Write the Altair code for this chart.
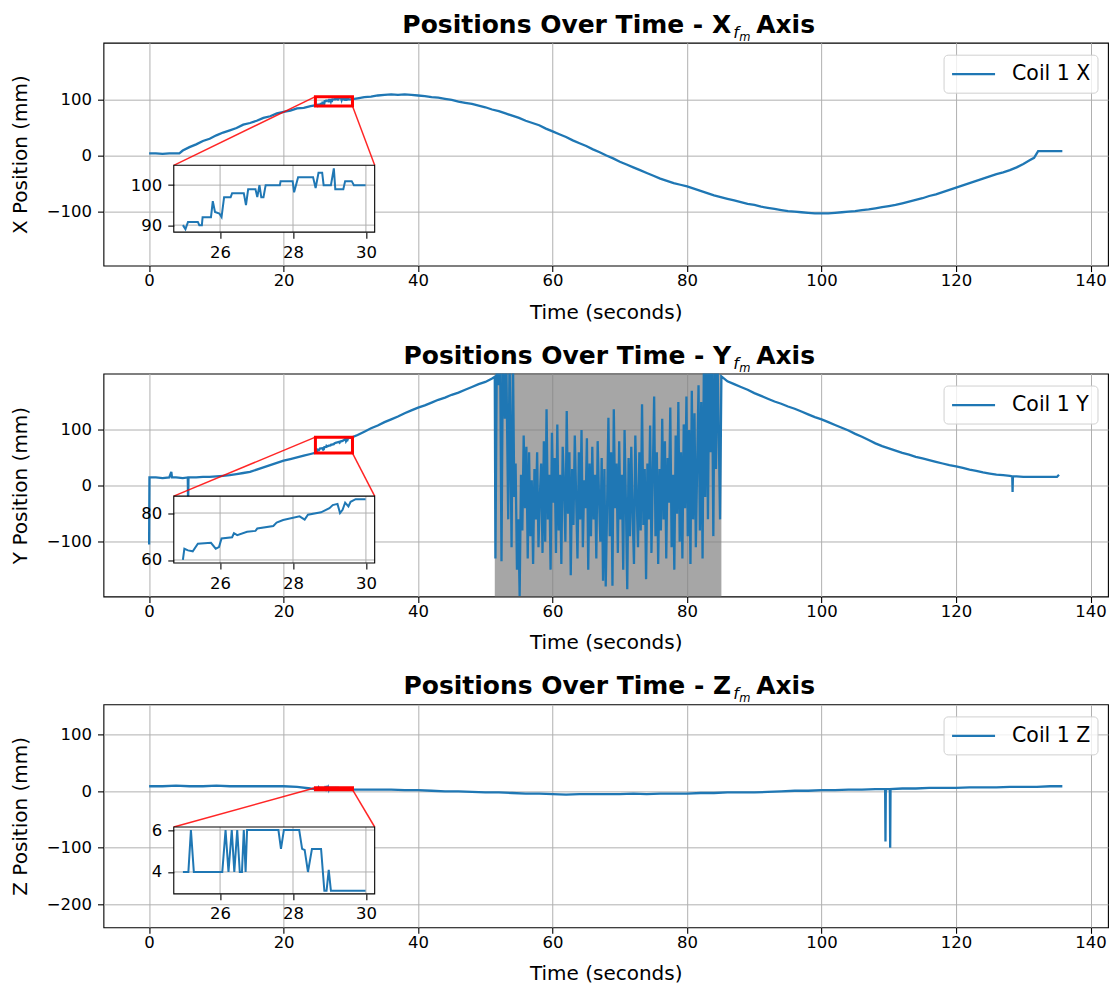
import altair as alt
import pandas as pd

FONT = "DejaVu Sans"
BLUE = "#1f77b4"
W, H = 1005, 223
INSET_BOUNDS = [0.07, 0.15, 0.2, 0.3]  # left, bottom, width, height (fraction of axes)

time_ticks = [0, 20, 40, 60, 80, 100, 120, 140]
inset_time_ticks = [26, 28, 30]

# ---------------- X panel ----------------
x_t = [0, 1, 2, 3, 4, 4.5, 5, 6, 7, 8, 9, 10, 11, 12, 13, 14, 15, 16, 17, 18, 19, 20, 21, 22, 23, 24,
       31, 32, 33, 34, 35, 36, 37, 38, 39, 40,
       41, 42, 43, 44, 45, 46, 47, 48, 49, 50,
       51, 52, 53, 54, 55, 56, 57, 58, 59, 60,
       61, 62, 63, 64, 65, 66, 67, 68, 69, 70,
       71, 72, 73, 74, 75, 76, 77, 78, 79, 80,
       81, 82, 83, 84, 85, 86, 87, 88, 89, 90,
       91, 92, 93, 94, 95, 96, 97, 98, 99, 100,
       101, 102, 103, 104, 105, 106, 107, 108, 109, 110,
       111, 112, 113, 114, 115, 116, 117, 118, 119, 120,
       121, 122, 123, 124, 125, 126, 127, 128, 129, 130,
       131, 131.6, 132.2, 133, 134, 135, 135.8]
x_v = [4, 4, 3, 4, 4, 4, 9, 15, 20, 26, 30, 36, 41, 45, 49, 55, 58, 62, 67, 70, 75, 78, 80, 84, 85, 88,
       102, 104, 105, 107, 108, 109, 108, 109, 108, 107,
       106, 104, 103, 101, 99, 96, 94, 92, 89, 86,
       82, 79, 75, 71, 67, 62, 58, 54, 48, 43,
       38, 33, 27, 22, 17, 11, 6, 0, -5, -11,
       -16, -21, -26, -31, -36, -41, -45, -49, -52, -55,
       -59, -63, -67, -71, -74, -77, -80, -83, -86, -88,
       -91, -93, -95, -97, -99, -100, -101, -102, -103, -103,
       -103, -102, -101, -100, -99, -97, -96, -94, -92, -90,
       -88, -85, -82, -79, -76, -72, -69, -65, -61, -57,
       -53, -49, -45, -41, -37, -33, -30, -26, -21, -15,
       -8, -4, 8, 8, 8, 8, 8]
x_inset_t = [24.98, 25.05, 25.12, 25.39, 25.43, 25.5, 25.52, 25.75, 25.8, 25.86,
             25.98, 26.04, 26.11, 26.29, 26.33, 26.65, 26.71, 26.77, 26.97, 27.02,
             27.08, 27.13, 27.19, 27.25, 27.64, 27.66, 27.99, 28.03, 28.14, 28.55,
             28.62, 28.7, 28.8, 28.84, 29.04, 29.12, 29.16, 29.38, 29.43, 29.61,
             29.67, 29.99]
x_inset_v = [90, 89, 90.8, 90.8, 90, 90, 92, 92, 96, 93.3,
             92.9, 92, 97, 97, 98, 98, 95, 99, 99, 97,
             100, 97, 97, 100, 100, 101, 101, 98.2, 102, 102,
             99.3, 103.1, 103.1, 100, 100, 104.2, 99, 99, 101, 101,
             100, 100]
x_ylim = [-196, 201]
x_yticks = [-100, 0, 100]
x_inset_yticks = [90, 100]

# ---------------- Y panel ----------------
y_t = [0, 0.05, 1, 2, 3, 3.3, 3.4, 4, 5, 5.75, 5.8, 5.85, 6, 7, 8, 9, 10, 11, 12, 13,
       14, 15, 16, 17, 18, 19, 20, 21, 22, 23, 24,
       31, 32, 33, 34, 35, 36, 37, 38, 39, 40, 41, 42, 43, 44, 45, 46, 47, 48, 49, 50, 51,
       86, 87, 88, 89, 90, 91, 92, 93, 94, 95, 96, 97, 98, 99, 100, 101, 102, 103, 104, 105,
       106, 107, 108, 109, 110, 111, 112, 113, 114, 115, 116, 117, 118, 119, 120, 121, 122,
       123, 124, 125, 126, 127, 128,
       128.35, 128.4, 128.45, 129, 130, 131, 132, 133, 134, 135, 135.3]
y_v = [-105, 15, 15, 14, 15, 25, 15, 15, 14, 15, -30, 15, 15, 15, 16, 16, 17, 18, 19, 21,
       23, 25, 29, 33, 37, 41, 45, 48, 51, 54, 57,
       91, 97, 103, 108, 114, 119, 124, 130, 135, 140, 144, 149, 154, 158, 163, 167, 172, 177, 182, 186, 192,
       187, 182, 177, 172, 166, 161, 156, 151, 147, 142, 138, 133, 128, 123, 119, 114, 109, 104, 99, 93,
       88, 82, 76, 71, 67, 63, 59, 56, 52, 49, 46, 43, 40, 37, 35, 32, 29,
       27, 24, 22, 20, 19, 18,
       17, -11, 17, 17, 16, 16, 16, 16, 16, 16, 20]
# noisy segment (shaded region)
y_noise_t = [51.4, 51.5, 51.7, 52.0, 52.2, 52.4, 52.6, 52.9, 53.1, 53.4, 53.6, 53.9, 54.1,
             54.3, 54.5, 54.7, 54.9, 55.1, 55.3, 55.5, 55.7, 55.9, 56.1,
             56.3, 56.5, 56.7, 56.9, 57.1, 57.3, 57.5, 57.7, 57.9, 58.1,
             58.3, 58.5, 58.7, 58.9, 59.1, 59.3, 59.5, 59.7, 59.9, 60.1,
             60.3, 60.5, 60.7, 60.9, 61.1, 61.3, 61.5, 61.7, 61.9, 62.1,
             62.3, 62.5, 62.7, 62.9, 63.1, 63.3, 63.5, 63.7, 63.9, 64.1,
             64.3, 64.5, 64.7, 64.9, 65.1, 65.3, 65.5, 65.7, 65.9, 66.1,
             66.3, 66.5, 66.7, 66.9, 67.1, 67.3, 67.5, 67.7, 67.9, 68.1,
             68.3, 68.5, 68.7, 68.9, 69.1, 69.3, 69.5, 69.7, 69.9, 70.1,
             70.3, 70.5, 70.7, 70.9, 71.1, 71.3, 71.5, 71.7, 71.9, 72.1,
             72.3, 72.5, 72.7, 72.9, 73.1, 73.3, 73.5, 73.7, 73.9, 74.1,
             74.3, 74.5, 74.7, 74.9, 75.1, 75.3, 75.5, 75.7, 75.9, 76.1,
             76.3, 76.5, 76.7, 76.9, 77.1, 77.3, 77.5, 77.7, 77.9, 78.1,
             78.3, 78.5, 78.7, 78.9, 79.1, 79.3, 79.5, 79.7, 79.9, 80.1,
             80.3, 80.5, 80.7, 80.9, 81.1, 81.3, 81.5, 81.7, 81.9, 82.1,
             82.3, 82.5, 82.7, 82.9, 83.1, 83.3, 83.5, 83.7, 83.9, 84.1,
             84.3, 84.5, 84.7, 84.9, 85.1]
y_noise_v = [195, -130, 230, 180, 240, -135, 230, 120, 240, -60, 230, -110, 235,
             -20, 40, -150, -60, -197, 20, -80, 90, -40, 70,
             -130, 60, -90, 10, -140, 30, -60, 60, -110, -20,
             40, -120, 80, -100, 137, -60, 20, -150, 95, -30,
             50, -120, 110, -80, 20, -140, 70, 0, -100, 134,
             -50, 60, -160, 30, -70, 90, -20, -130, 60, -60,
             100, -110, 10, -40, 85, -150, 40, -90, 70, -60,
             20, -130, 80, -20, -100, 50, -170, 30, -180, -40,
             122, -90, 60, -179, 137, -40, 40, -120, 80, -60,
             20, -150, 100, -30, -185, 50, -90, 70, -50, -140,
             90, -20, -110, 60, -80, 146, -70, 30, -167, 40,
             -60, 108, -120, 20, 160, -90, 60, -140, 30, -80,
             120, -60, 80, -130, 50, -30, 140, -110, 20, -150,
             90, -50, 150, -100, 60, -130, 110, -40, 160, -90,
             100, -140, 170, -60, 130, -110, 40, 180, -80, 150,
             -130, 230, -20, 240, -60, 240, 60, 230, -90, 240,
             30, 240, 100, -60, 196]
y_span = [51.4, 85.1]
y_inset_t = [24.98, 25.02, 25.12, 25.25, 25.39, 25.75, 25.88, 25.97, 26.04, 26.33,
             26.38, 26.47, 26.74, 26.97, 27.02, 27.46, 27.55, 27.73, 28.18, 28.32,
             28.41, 28.77, 29.0, 29.09, 29.22, 29.29, 29.36, 29.43, 29.52, 29.58,
             29.72, 29.99]
y_inset_v = [60, 64.8, 64.1, 63.7, 66.9, 67.3, 64.8, 65.5, 69.2, 69.7,
             71.4, 70.6, 72, 72.4, 73.4, 74.5, 75.9, 77, 78.6, 77.2,
             79.3, 80.3, 82.1, 83.4, 83.9, 80, 81.4, 84.4, 82.8, 84.8,
             85.9, 85.9]
y_ylim = [-198, 201]
y_yticks = [-100, 0, 100]
y_inset_yticks = [60, 80]

# ---------------- Z panel ----------------
z_t = [0, 2, 4, 6, 8, 10, 12, 14, 16, 18, 20, 22, 24,
       31, 32, 34, 36, 38, 40, 42, 44, 46, 48, 50, 52, 54, 56, 58, 60,
       62, 64, 66, 68, 70, 72, 74, 76, 78, 80, 82, 84, 86, 88, 90,
       92, 94, 96, 98, 100, 102, 104, 106, 108,
       109.45, 109.5, 109.55, 110.15, 110.2, 110.25,
       112, 114, 116, 118, 120, 122, 124, 126, 128, 130, 132, 134, 135.8]
z_v = [9, 9, 10, 9, 9, 10, 9, 9, 9, 9, 9, 8, 5,
       3, 3, 3, 3, 2, 2, 1, 0, 0, -1, -2, -2, -3, -4, -4, -5,
       -6, -5, -5, -5, -5, -4, -5, -4, -4, -4, -3, -3, -2, -2, -2,
       -1, 0, 1, 1, 2, 2, 3, 3, 4,
       4, -89, 4, 4, -100, 4,
       5, 5, 6, 6, 6, 7, 7, 7, 8, 8, 8, 9, 9]
z_inset_t = [24.98, 25.13, 25.2, 25.28, 26.06, 26.15, 26.23, 26.32, 26.39, 26.47,
             26.54, 26.6, 26.65, 26.7, 26.74, 27.6, 27.67, 27.75, 28.17, 28.25,
             28.32, 28.41, 28.52, 28.77, 28.86, 28.92, 28.98, 29.04, 29.99]
z_inset_v = [4, 4, 6, 4, 4, 6, 4, 6, 4, 6,
             4, 4, 6, 4, 6, 6, 5.1, 6, 6, 5.1,
             5.05, 4, 5.1, 5.1, 3.1, 3.1, 4.1, 3.1, 3.1]
z_ylim = [-241, 154]
z_yticks = [-200, -100, 0, 100]
z_inset_yticks = [4, 6]

# layout constants (pixels relative to each plot area)
TITLE_X_END = 628
TITLE_BASE = -10
TITLE_SIZE = 25
LEG_BOX = [W - 164, W - 10, 12.5, 50.5]   # x0, x1, y0, y1
LEG_LINE = [W - 156, W - 113]
LEG_Y = 31.5
LEG_TEXT_X = W - 96
TICK_SIZE = 16.5


def pad_lim(vals, frac=0.05):
    lo, hi = min(vals), max(vals)
    d = (hi - lo) * frac
    return [lo - d, hi + d]


all_t = x_t + y_t + z_t
time_lim = pad_lim(all_t)
one = pd.DataFrame({"k": [0]})


def panel(letter, t, v, it, iv, ylim, yticks, iyticks, span=None, extra=None):
    series = f"Coil 1 {letter}"
    tt = list(t) + list(it)
    vv = list(v) + list(iv)
    if extra is not None:
        tt += list(extra[0])
        vv += list(extra[1])
    main_df = pd.DataFrame({"t": tt, "v": vv, "series": series})
    xs = alt.Scale(domain=time_lim, nice=False, zero=False)
    ys = alt.Scale(domain=ylim, nice=False, zero=False)

    layers = []
    line = alt.Chart(main_df).mark_line(clip=True, strokeWidth=2.3, color=BLUE).encode(
        x=alt.X("t:Q", scale=xs, axis=alt.Axis(values=time_ticks, title="Time (seconds)",
                                               format="d", labelPadding=1, titlePadding=13)),
        y=alt.Y("v:Q", scale=ys, axis=alt.Axis(values=yticks, title=f"{letter} Position (mm)",
                                               format="d", titlePadding=15.5)),
    )
    if span is not None:
        layers.append(
            alt.Chart(one).mark_rect(color="gray", opacity=0.7).encode(
                x=alt.datum(span[0]), x2=alt.datum(span[1]), y=alt.value(0), y2=alt.value(H)
            )
        )
    layers.append(line)

    ix_lim = pad_lim(it)
    iy_lim = pad_lim(iv)
    b0, b1, bw, bh = INSET_BOUNDS
    ixr = [W * b0, W * (b0 + bw)]
    iyr = [H * (1 - b1), H * (1 - b1 - bh)]

    # zoom rectangle + connectors in main coordinates
    layers.append(
        alt.Chart(one).mark_rect(fillOpacity=0, stroke="red", strokeWidth=3).encode(
            x=alt.datum(ix_lim[0]), x2=alt.datum(ix_lim[1]),
            y=alt.datum(iy_lim[0]), y2=alt.datum(iy_lim[1])
        )
    )
    layers.append(
        alt.Chart(one).mark_rule(color="red", strokeWidth=1.5, opacity=0.85).encode(
            x=alt.datum(ix_lim[0]), y=alt.datum(iy_lim[1]), x2=alt.value(ixr[0]), y2=alt.value(iyr[1])
        )
    )
    layers.append(
        alt.Chart(one).mark_rule(color="red", strokeWidth=1.5, opacity=0.85).encode(
            x=alt.datum(ix_lim[1]), y=alt.datum(iy_lim[0]), x2=alt.value(ixr[1]), y2=alt.value(iyr[1])
        )
    )
    # legend (box, line sample, label)
    layers.append(alt.Chart(one).mark_rect(
        fill="white", fillOpacity=0.8, stroke="#d0d0d0", strokeWidth=1, cornerRadius=4
    ).encode(x=alt.value(LEG_BOX[0]), x2=alt.value(LEG_BOX[1]),
             y=alt.value(LEG_BOX[2]), y2=alt.value(LEG_BOX[3])))
    layers.append(alt.Chart(one).mark_rule(color=BLUE, strokeWidth=2.2).encode(
        x=alt.value(LEG_LINE[0]), x2=alt.value(LEG_LINE[1]), y=alt.value(LEG_Y)))
    layers.append(alt.Chart(one).mark_text(
        text=series, align="left", baseline="middle", font=FONT, fontSize=20.5, color="black"
    ).encode(x=alt.value(LEG_TEXT_X), y=alt.value(LEG_Y)))
    # title (with subscript)
    layers.append(alt.Chart(one).mark_text(
        text=f"Positions Over Time - {letter}", align="right", baseline="alphabetic",
        font=FONT, fontSize=TITLE_SIZE, fontWeight="bold", color="black"
    ).encode(x=alt.value(TITLE_X_END), y=alt.value(TITLE_BASE)))
    layers.append(alt.Chart(one).mark_text(
        text="f", align="left", baseline="alphabetic", font=FONT, fontSize=16,
        fontStyle="italic", color="black"
    ).encode(x=alt.value(TITLE_X_END + 2), y=alt.value(TITLE_BASE + 5)))
    layers.append(alt.Chart(one).mark_text(
        text="m", align="left", baseline="alphabetic", font=FONT, fontSize=11.5,
        fontStyle="italic", color="black"
    ).encode(x=alt.value(TITLE_X_END + 8), y=alt.value(TITLE_BASE + 8)))
    layers.append(alt.Chart(one).mark_text(
        text="Axis", align="left", baseline="alphabetic", font=FONT, fontSize=TITLE_SIZE,
        fontWeight="bold", color="black"
    ).encode(x=alt.value(TITLE_X_END + 25), y=alt.value(TITLE_BASE)))

    main_layer = alt.layer(*layers)

    # ---- inset ----
    isx = alt.Scale(domain=ix_lim, range=ixr, nice=False, zero=False)
    isy = alt.Scale(domain=iy_lim, range=iyr, nice=False, zero=False)
    inset_df = pd.DataFrame({"t": it, "v": iv})
    iline = alt.Chart(inset_df).mark_line(color=BLUE, strokeWidth=2).encode(
        x=alt.X("t:Q", scale=isx, axis=alt.Axis(
            values=inset_time_ticks, orient="bottom", offset=-(H - iyr[0]), grid=False,
            domain=False, title=None, format="d", zindex=1)),
        y=alt.Y("v:Q", scale=isy, axis=alt.Axis(
            values=iyticks, orient="left", offset=-ixr[0], grid=False,
            domain=False, title=None, format="d", zindex=1)),
    )
    bg = alt.Chart(one).mark_rect(color="white").encode(
        x=alt.datum(ix_lim[0]), x2=alt.datum(ix_lim[1]),
        y=alt.datum(iy_lim[0]), y2=alt.datum(iy_lim[1])
    )
    gx = alt.Chart(pd.DataFrame({"tick": inset_time_ticks})).mark_rule(color="#b0b0b0", strokeWidth=1).encode(
        x="tick:Q", y=alt.datum(iy_lim[0]), y2=alt.datum(iy_lim[1])
    )
    gy = alt.Chart(pd.DataFrame({"tick": iyticks})).mark_rule(color="#b0b0b0", strokeWidth=1).encode(
        y="tick:Q", x=alt.datum(ix_lim[0]), x2=alt.datum(ix_lim[1])
    )
    border = alt.Chart(one).mark_rect(fillOpacity=0, stroke="black", strokeWidth=1.1).encode(
        x=alt.datum(ix_lim[0]), x2=alt.datum(ix_lim[1]),
        y=alt.datum(iy_lim[0]), y2=alt.datum(iy_lim[1])
    )
    inset_layer = alt.layer(bg, gx, gy, iline, border)

    return alt.layer(main_layer, inset_layer).resolve_scale(
        x="independent", y="independent"
    ).properties(width=W, height=H)


p1 = panel("X", x_t, x_v, x_inset_t, x_inset_v, x_ylim, x_yticks, x_inset_yticks)
p2 = panel("Y", y_t, y_v, y_inset_t, y_inset_v, y_ylim, y_yticks, y_inset_yticks,
           span=y_span, extra=(y_noise_t, y_noise_v))
p3 = panel("Z", z_t, z_v, z_inset_t, z_inset_v, z_ylim, z_yticks, z_inset_yticks)

chart = alt.vconcat(p1, p2, p3, spacing=19).resolve_scale(
    x="independent", y="independent"
).properties(
    padding={"left": 1.5, "top": 3.5, "right": 0, "bottom": 0}, background="white"
).configure(font=FONT).configure_view(
    stroke="black", strokeWidth=1.1
).configure_axis(
    domain=False, grid=True, gridColor="#b0b0b0", gridWidth=1,
    tickColor="black", tickSize=6, tickWidth=1.1,
    labelFont=FONT, labelFontSize=TICK_SIZE, labelColor="black", labelPadding=6,
    titleFont=FONT, titleFontSize=20, titleFontWeight="normal", titleColor="black",
)

chart.save("out.html", embed_options={"renderer": "svg", "actions": False})
